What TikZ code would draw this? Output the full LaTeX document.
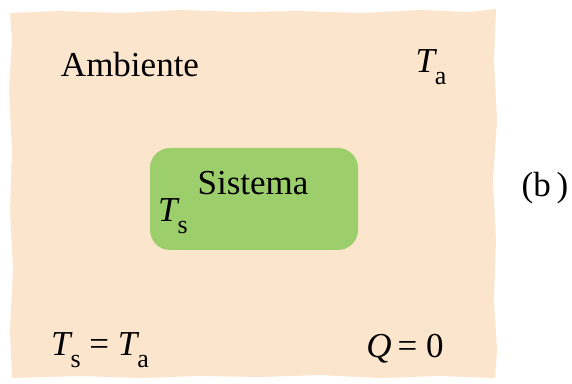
\documentclass[tikz,border=0pt]{standalone}
\usepackage{fontspec}
\setmainfont{Liberation Serif}
\definecolor{beige}{RGB}{252,229,205}
\definecolor{sysgreen}{RGB}{157,206,108}
\newcommand{\Tsub}[1]{\textit{T}\kern-0.06em\raisebox{-0.35em}{\fontsize{13}{13}\selectfont #1}}
\tikzset{
  lbl/.style={font=\fontsize{17.5}{20}\selectfont, inner sep=0pt},
}
\begin{document}
\begin{tikzpicture}[x=0.5pt,y=-0.5pt]
\useasboundingbox (0,0) rectangle (572,384);
\fill[beige] (10,13) -- (60,11) -- (120,13) -- (180,10) -- (240,12) -- (300,11) -- (360,13) -- (420,10) -- (470,12) -- (496,9)
  -- (494,60) -- (497,120) -- (493,180) -- (496,240) -- (494,300) -- (497,350) -- (495,378)
  -- (440,376) -- (380,378) -- (320,375) -- (260,377) -- (200,376) -- (140,378) -- (80,376) -- (12,378)
  -- (10,330) -- (13,270) -- (10,210) -- (12,150) -- (9,90) -- (12,40) -- cycle;
\node[fill=sysgreen, rounded corners=10pt, minimum width=104pt, minimum height=51pt, inner sep=0pt] (sys) at (254,199) {};
\node[lbl] (amb) at (130,65) {Ambiente};
\node[lbl] (ta) at (431,67) {\Tsub{a}};
\node[lbl] (sis) at (253,183) {Sistema};
\node[lbl] (ts) at (173,216) {\Tsub{s}};
\node[lbl] (b) at (545,188) {(b\,)};
\node[lbl] (eq) at (100,350) {\Tsub{s} = \Tsub{a}};
\node[lbl] (q) at (405,349) {\textit{Q}\,= 0};
\end{tikzpicture}
\end{document}
